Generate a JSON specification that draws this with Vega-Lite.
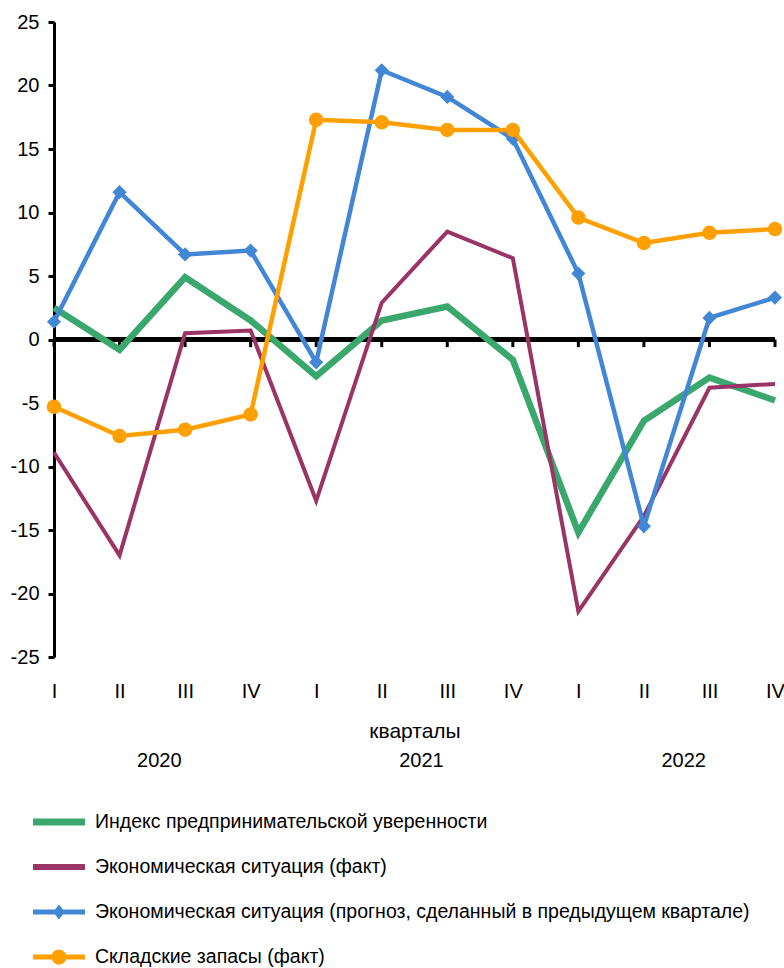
{
  "$schema": "https://vega.github.io/schema/vega-lite/v6.json",
  "width": 721,
  "height": 635,
  "autosize": {"type": "none"},
  "padding": {"left": 54, "top": 22, "right": 9, "bottom": 311},
  "background": "white",
  "config": {
    "font": "Liberation Sans",
    "view": {"stroke": null},
    "axis": {"grid": false, "labelColor": "black", "titleColor": "black", "labelFont": "Liberation Sans", "titleFont": "Liberation Sans"},
    "axisX": {"titleFontSize": 21, "titleFontWeight": "normal"},
    "legend": {"labelFont": "Liberation Sans"}
  },
  "datasets": {
    "main": [
      {"qi": 0, "year": "2020", "series": "Индекс предпринимательской уверенности", "value": 2.5},
      {"qi": 1, "year": "2020", "series": "Индекс предпринимательской уверенности", "value": -0.8},
      {"qi": 2, "year": "2020", "series": "Индекс предпринимательской уверенности", "value": 4.9},
      {"qi": 3, "year": "2020", "series": "Индекс предпринимательской уверенности", "value": 1.5},
      {"qi": 4, "year": "2021", "series": "Индекс предпринимательской уверенности", "value": -2.9},
      {"qi": 5, "year": "2021", "series": "Индекс предпринимательской уверенности", "value": 1.5},
      {"qi": 6, "year": "2021", "series": "Индекс предпринимательской уверенности", "value": 2.6},
      {"qi": 7, "year": "2021", "series": "Индекс предпринимательской уверенности", "value": -1.6},
      {"qi": 8, "year": "2022", "series": "Индекс предпринимательской уверенности", "value": -15.2},
      {"qi": 9, "year": "2022", "series": "Индекс предпринимательской уверенности", "value": -6.4},
      {"qi": 10, "year": "2022", "series": "Индекс предпринимательской уверенности", "value": -3.0},
      {"qi": 11, "year": "2022", "series": "Индекс предпринимательской уверенности", "value": -4.8},
      {"qi": 0, "year": "2020", "series": "Экономическая ситуация (факт)", "value": -8.9},
      {"qi": 1, "year": "2020", "series": "Экономическая ситуация (факт)", "value": -17.0},
      {"qi": 2, "year": "2020", "series": "Экономическая ситуация (факт)", "value": 0.5},
      {"qi": 3, "year": "2020", "series": "Экономическая ситуация (факт)", "value": 0.7},
      {"qi": 4, "year": "2021", "series": "Экономическая ситуация (факт)", "value": -12.7},
      {"qi": 5, "year": "2021", "series": "Экономическая ситуация (факт)", "value": 2.9},
      {"qi": 6, "year": "2021", "series": "Экономическая ситуация (факт)", "value": 8.5},
      {"qi": 7, "year": "2021", "series": "Экономическая ситуация (факт)", "value": 6.4},
      {"qi": 8, "year": "2022", "series": "Экономическая ситуация (факт)", "value": -21.4},
      {"qi": 9, "year": "2022", "series": "Экономическая ситуация (факт)", "value": -13.9},
      {"qi": 10, "year": "2022", "series": "Экономическая ситуация (факт)", "value": -3.8},
      {"qi": 11, "year": "2022", "series": "Экономическая ситуация (факт)", "value": -3.5},
      {"qi": 0, "year": "2020", "series": "Экономическая ситуация (прогноз, сделанный в предыдущем квартале)", "value": 1.4},
      {"qi": 1, "year": "2020", "series": "Экономическая ситуация (прогноз, сделанный в предыдущем квартале)", "value": 11.6},
      {"qi": 2, "year": "2020", "series": "Экономическая ситуация (прогноз, сделанный в предыдущем квартале)", "value": 6.7},
      {"qi": 3, "year": "2020", "series": "Экономическая ситуация (прогноз, сделанный в предыдущем квартале)", "value": 7.0},
      {"qi": 4, "year": "2021", "series": "Экономическая ситуация (прогноз, сделанный в предыдущем квартале)", "value": -1.8},
      {"qi": 5, "year": "2021", "series": "Экономическая ситуация (прогноз, сделанный в предыдущем квартале)", "value": 21.2},
      {"qi": 6, "year": "2021", "series": "Экономическая ситуация (прогноз, сделанный в предыдущем квартале)", "value": 19.1},
      {"qi": 7, "year": "2021", "series": "Экономическая ситуация (прогноз, сделанный в предыдущем квартале)", "value": 15.8},
      {"qi": 8, "year": "2022", "series": "Экономическая ситуация (прогноз, сделанный в предыдущем квартале)", "value": 5.2},
      {"qi": 9, "year": "2022", "series": "Экономическая ситуация (прогноз, сделанный в предыдущем квартале)", "value": -14.7},
      {"qi": 10, "year": "2022", "series": "Экономическая ситуация (прогноз, сделанный в предыдущем квартале)", "value": 1.7},
      {"qi": 11, "year": "2022", "series": "Экономическая ситуация (прогноз, сделанный в предыдущем квартале)", "value": 3.3},
      {"qi": 0, "year": "2020", "series": "Складские запасы (факт)", "value": -5.3},
      {"qi": 1, "year": "2020", "series": "Складские запасы (факт)", "value": -7.6},
      {"qi": 2, "year": "2020", "series": "Складские запасы (факт)", "value": -7.1},
      {"qi": 3, "year": "2020", "series": "Складские запасы (факт)", "value": -5.9},
      {"qi": 4, "year": "2021", "series": "Складские запасы (факт)", "value": 17.3},
      {"qi": 5, "year": "2021", "series": "Складские запасы (факт)", "value": 17.1},
      {"qi": 6, "year": "2021", "series": "Складские запасы (факт)", "value": 16.5},
      {"qi": 7, "year": "2021", "series": "Складские запасы (факт)", "value": 16.5},
      {"qi": 8, "year": "2022", "series": "Складские запасы (факт)", "value": 9.6},
      {"qi": 9, "year": "2022", "series": "Складские запасы (факт)", "value": 7.6},
      {"qi": 10, "year": "2022", "series": "Складские запасы (факт)", "value": 8.4},
      {"qi": 11, "year": "2022", "series": "Складские запасы (факт)", "value": 8.7}
    ]
  },
  "data": {"name": "main"},
  "layer": [
    {
      "mark": {"type": "rule", "color": "black", "strokeWidth": 4},
      "encoding": {
        "x": {
          "datum": 0, "type": "quantitative",
          "scale": {"domain": [0, 11], "nice": false, "zero": false},
          "axis": {
            "values": [0, 1, 2, 3, 4, 5, 6, 7, 8, 9, 10, 11],
            "labelExpr": "['I','II','III','IV'][datum.value % 4]",
            "domain": false, "ticks": false, "labelPadding": 24, "labelFontSize": 20,
            "labelFlush": false, "labelOverlap": false,
            "title": "кварталы", "titleFontSize": 21, "titleFontWeight": "normal", "titlePadding": 19
          }
        },
        "x2": {"datum": 11},
        "y": {
          "datum": 0, "type": "quantitative",
          "scale": {"domain": [-25, 25], "nice": false},
          "axis": {
            "values": [-25, -20, -15, -10, -5, 0, 5, 10, 15, 20, 25],
            "labelExpr": "datum.value + ''",
            "domainColor": "black", "domainWidth": 3, "tickColor": "black", "tickWidth": 3, "tickSize": 6,
            "labelPadding": 9, "labelFontSize": 20, "title": null
          }
        }
      }
    },
    {
      "transform": [{"filter": "datum.series === 'Складские запасы (факт)'"}],
      "mark": {"type": "rule", "color": "black", "strokeWidth": 3},
      "encoding": {"x": {"field": "qi", "type": "quantitative"}, "y": {"datum": 0}, "y2": {"datum": -0.6}}
    },
    {
      "transform": [{"filter": "datum.series === 'Индекс предпринимательской уверенности'"}],
      "mark": {"type": "line", "strokeWidth": 6.5},
      "encoding": {
        "x": {"field": "qi", "type": "quantitative"},
        "y": {"field": "value", "type": "quantitative"},
        "color": {
          "field": "series", "type": "nominal",
          "scale": {
            "domain": ["Индекс предпринимательской уверенности", "Экономическая ситуация (факт)", "Экономическая ситуация (прогноз, сделанный в предыдущем квартале)", "Складские запасы (факт)"],
            "range": ["#3aa76d", "#9a3366", "#4286d6", "#ffa000"]
          },
          "legend": {
            "orient": "none", "legendX": -21, "legendY": 789, "direction": "vertical", "title": null,
            "symbolSize": 2704, "clipHeight": 22, "rowPadding": 23, "labelOffset": 10,
            "labelFontSize": 19.5, "labelColor": "black", "labelLimit": 0, "padding": 0,
            "encode": {
              "symbols": {
                "update": {
                  "shape": {"signal": "['M-1,-0.135H1V0.135H-1Z','M-1,-0.115H1V0.115H-1Z','M-1,-0.096H1V0.096H-1Z M0,-0.29L0.23,0L0,0.29L-0.23,0Z','M-1,-0.096H1V0.096H-1Z M0.29,0A0.29,0.29 0 1 1 -0.29,0A0.29,0.29 0 1 1 0.29,0Z'][indexof(domain('color'), datum.value)]"},
                  "fill": {"signal": "scale('color', datum.value)"},
                  "fillOpacity": {"value": 1},
                  "strokeWidth": {"value": 0},
                  "opacity": {"value": 1}
                }
              }
            }
          }
        }
      }
    },
    {
      "transform": [{"filter": "datum.series === 'Экономическая ситуация (факт)'"}],
      "mark": {"type": "line", "strokeWidth": 4},
      "encoding": {
        "x": {"field": "qi", "type": "quantitative"},
        "y": {"field": "value", "type": "quantitative"},
        "color": {"field": "series", "type": "nominal"}
      }
    },
    {
      "transform": [{"filter": "datum.series === 'Экономическая ситуация (прогноз, сделанный в предыдущем квартале)'"}],
      "mark": {"type": "line", "strokeWidth": 4.5},
      "encoding": {
        "x": {"field": "qi", "type": "quantitative"},
        "y": {"field": "value", "type": "quantitative"},
        "color": {"field": "series", "type": "nominal"}
      }
    },
    {
      "transform": [{"filter": "datum.series === 'Экономическая ситуация (прогноз, сделанный в предыдущем квартале)'"}],
      "mark": {"type": "point", "shape": "diamond", "filled": true, "size": 200, "opacity": 1},
      "encoding": {
        "x": {"field": "qi", "type": "quantitative"},
        "y": {"field": "value", "type": "quantitative"},
        "color": {"field": "series", "type": "nominal"}
      }
    },
    {
      "transform": [{"filter": "datum.series === 'Складские запасы (факт)'"}],
      "mark": {"type": "line", "strokeWidth": 4.5},
      "encoding": {
        "x": {"field": "qi", "type": "quantitative"},
        "y": {"field": "value", "type": "quantitative"},
        "color": {"field": "series", "type": "nominal"}
      }
    },
    {
      "transform": [{"filter": "datum.series === 'Складские запасы (факт)'"}],
      "mark": {"type": "point", "shape": "circle", "filled": true, "size": 210, "opacity": 1},
      "encoding": {
        "x": {"field": "qi", "type": "quantitative"},
        "y": {"field": "value", "type": "quantitative"},
        "color": {"field": "series", "type": "nominal"}
      }
    },
    {
      "transform": [
        {"filter": "datum.series === 'Складские запасы (факт)'"},
        {"aggregate": [{"op": "mean", "field": "qi", "as": "mq"}], "groupby": ["year"]}
      ],
      "mark": {"type": "text", "fontSize": 20, "color": "black", "baseline": "middle", "align": "center", "dx": 7},
      "encoding": {
        "x": {"field": "mq", "type": "quantitative"},
        "y": {"datum": -33.2},
        "text": {"field": "year", "type": "nominal"}
      }
    }
  ]
}
